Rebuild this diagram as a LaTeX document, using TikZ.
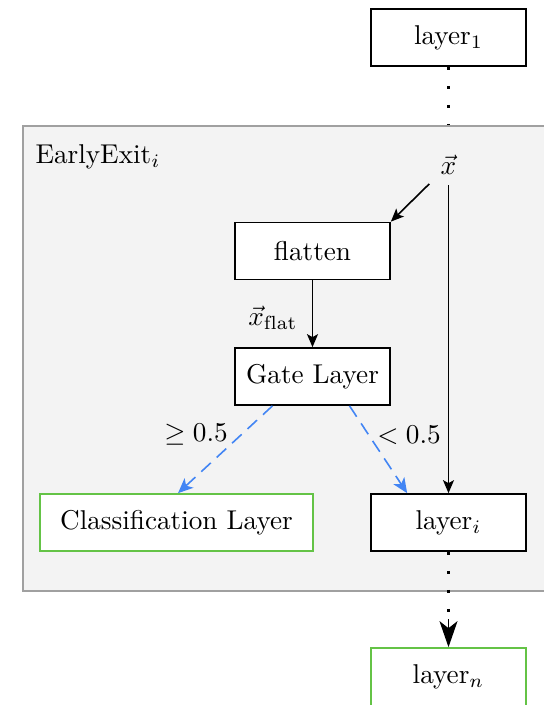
\RequirePackage{fix-cm}
\documentclass[tikz,border=0pt]{standalone}
\usepackage{fontspec}
\usetikzlibrary{arrows.meta,calc}
\definecolor{bgfill}{RGB}{243,243,243}
\definecolor{bgline}{RGB}{160,160,160}
\definecolor{gblue}{RGB}{66,133,244}
\definecolor{ggreen}{RGB}{100,195,70}
\newcommand{\sbx}[1]{\scalebox{2.72}{#1}}
\begin{document}
\begin{tikzpicture}[x=1pt,y=-1pt,
  font=\fontsize{10}{12}\selectfont,
  box/.style={draw=black, line width=1.7pt, fill=white, minimum width=155pt, minimum height=57pt, inner sep=0pt},
  gbox/.style={box, draw=ggreen},
  arr/.style={line width=1.6pt, -{Stealth[length=13pt,width=11pt,inset=3pt]}},
  barr/.style={gblue, line width=1.6pt, dash pattern=on 13pt off 8pt, -{Stealth[length=15pt,width=13pt,inset=4pt]}},
  dotline/.style={line width=3pt, dash pattern=on 3pt off 16pt}]
\useasboundingbox (0,0) rectangle (544,705);
\clip (0,0) rectangle (544,705);
\fill[white] (0,0) rectangle (544,705);
\node[draw=bgline, fill=bgfill, line width=1.6pt, minimum width=540pt, minimum height=465pt, anchor=north west, inner sep=0pt] (ee) at (22,125) {};
\node[anchor=west] (eel) at (32,157) {\sbx{EarlyExit$_i$}};
\node[box] (layer1) at (448.5,37.5) {\sbx{layer$_1$}};
\node (x) at (448.5,165) {\sbx{$\vec{x}$}};
\node[box] (flatten) at (312.5,251) {\sbx{flatten}};
\node[box] (gate) at (312.5,376.5) {\sbx{Gate Layer}};
\node[gbox, minimum width=273pt] (cls) at (176.5,522.5) {\sbx{Classification Layer}};
\node[box] (layeri) at (448.5,522.5) {\sbx{layer$_i$}};
\node[gbox, minimum height=58pt] (layern) at (448.5,677) {\sbx{layer$_n$}};
\node (xflat) at (273,318) {\sbx{$\vec{x}_{\mathrm{flat}}$}};
\node (ge) at (196,435) {\sbx{$\geq 0.5$}};
\node (lt) at (409,435) {\sbx{$<0.5$}};
\draw[dotline] (layer1.south) -- (layer1.south |- ee.north);
\draw[arr, shorten <=27pt] (x.center) -- (flatten.north east);
\draw[arr, shorten <=20pt] (x.center) -- (layeri.north);
\draw[arr] (flatten.south) -- (gate.north);
\draw[barr] ($(gate.south)+(-40,0)$) -- ($(cls.north)+(1.5,0)$);
\draw[barr] ($(gate.south)+(37,0)$) -- ($(layeri.north west)+(37,0)$);
\draw[dotline] (layeri.south) -- ($(layeri.south)+(0,62)$);
\coordinate (tipstart) at ($(layern.north)+(0,-28)$);
\draw[line width=1.6pt, -{Stealth[length=26pt,width=18pt,inset=7pt]}] (tipstart) -- (layern.north);
\end{tikzpicture}
\end{document}
